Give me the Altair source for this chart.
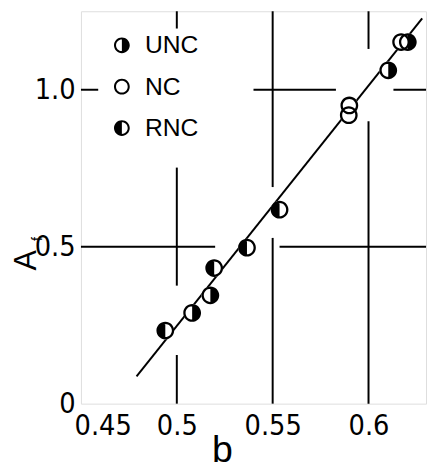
import altair as alt
import pandas as pd

# ---- data ----
b_vals = [0.494, 0.508, 0.5175, 0.5195, 0.5366, 0.5536, 0.5897, 0.5900, 0.6103, 0.6170, 0.6205]
af_vals = [0.233, 0.289, 0.345, 0.432, 0.497, 0.618, 0.919, 0.950, 1.062, 1.152, 1.152]
series = ["RNC", "UNC", "UNC", "RNC", "RNC", "RNC", "NC", "NC", "UNC", "NC", "UNC"]
categories = ["UNC", "NC", "RNC"]

fit_b = [0.479, 0.628]
fit_af = [0.087, 1.227]

x_ticks = [0.45, 0.5, 0.55, 0.6]
y_ticks = [0, 0.5, 1.0]

# cross-hair style grid segments (data coordinates)
vgrid_b = [0.5, 0.5, 0.5, 0.55, 0.55, 0.6, 0.6]
vgrid_from = [1.25, 0.752, 0.155, 1.25, 0.528, 1.25, 0.90]
vgrid_to = [1.195, 0.376, 0.0, 0.69, 0.0, 1.13, 0.0]
hgrid_af = [1.0, 1.0, 1.0, 0.5, 0.5]
hgrid_from = [0.45, 0.540, 0.613, 0.45, 0.5536]
hgrid_to = [0.459, 0.583, 0.63, 0.520, 0.63]

# ---- marker shapes: ring + filled half ----
ring = ("M -1 0 A 1 1 0 1 1 1 0 A 1 1 0 1 1 -1 0 Z "
        "M -0.74 0 A 0.74 0.74 0 1 0 0.74 0 A 0.74 0.74 0 1 0 -0.74 0 Z")
right_half = "M 0 -1 A 1 1 0 0 1 0 1 Z"
left_half = "M 0 1 A 1 1 0 0 1 0 -1 Z"
shape_paths = [ring + " " + right_half, ring, ring + " " + left_half]

pts = pd.DataFrame({"b": b_vals, "Af": af_vals, "series": series})
fit = pd.DataFrame({"b": fit_b, "Af": fit_af})
grid = pd.DataFrame({
    "x": vgrid_b + hgrid_from,
    "x2": vgrid_b + hgrid_to,
    "y": vgrid_from + hgrid_af,
    "y2": vgrid_to + hgrid_af,
})

LBL = "DejaVu Sans Condensed, Liberation Sans Narrow, Liberation Sans, sans-serif"

xscale = alt.Scale(domain=[0.45, 0.63], nice=False, zero=False)
yscale = alt.Scale(domain=[0, 1.25], nice=False)

xaxis = alt.Axis(values=x_ticks, title="b", grid=False, ticks=False, domain=False,
                 labelFont=LBL, labelFontSize=29, labelColor="black", labelPadding=8,
                 labelExpr="format(datum.value, '~g')",
                 labelFlush=True, labelFlushOffset=7,
                 titleFont="Liberation Sans", titleFontSize=38, titleFontWeight="normal",
                 titleColor="black", titleX=143, titleY=59, titleBaseline="alphabetic",
                 titleAlign="center")
yaxis = alt.Axis(values=y_ticks, title="A", grid=False, ticks=False, domain=False,
                 labelFont=LBL, labelFontSize=29, labelColor="black", labelPadding=6,
                 labelExpr="datum.value == 0 ? '0' : format(datum.value, '.1f')",
                 titleFont="Liberation Sans", titleFontSize=31, titleFontWeight="normal",
                 titleColor="black", titleX=-46, titleY=252, titleAngle=270,
                 titleBaseline="alphabetic", titleAlign="center")

grid_layer = alt.Chart(grid).mark_rule(color="black", strokeWidth=2).encode(
    x=alt.X("x:Q", scale=xscale, axis=xaxis),
    x2="x2:Q",
    y=alt.Y("y:Q", scale=yscale, axis=yaxis),
    y2="y2:Q",
)

fit_layer = alt.Chart(fit).mark_line(color="black", strokeWidth=2).encode(
    x=alt.X("b:Q", scale=xscale),
    y=alt.Y("Af:Q", scale=yscale),
)

under = alt.Chart(pts).mark_point(shape="circle", filled=True, color="white",
                                  size=324, opacity=1).encode(
    x=alt.X("b:Q", scale=xscale),
    y=alt.Y("Af:Q", scale=yscale),
)

marks = alt.Chart(pts).mark_point(filled=True, color="black", size=324, opacity=1,
                                  strokeWidth=0).encode(
    x=alt.X("b:Q", scale=xscale),
    y=alt.Y("Af:Q", scale=yscale),
    shape=alt.Shape("series:N",
                    scale=alt.Scale(domain=categories, range=shape_paths),
                    legend=alt.Legend(title=None, orient="none", legendX=29, legendY=22,
                                      symbolSize=256, symbolFillColor="black",
                                      symbolStrokeWidth=0, symbolOpacity=1,
                                      labelFont="Liberation Sans", labelFontSize=25,
                                      labelColor="black", labelOffset=11,
                                      rowPadding=16, padding=0)),
)

sub_f = alt.Chart(pd.DataFrame({"t": ["f"]})).mark_text(
    angle=270, fontSize=15, font="Liberation Sans", align="left",
    baseline="alphabetic", color="black").encode(
    text="t:N", x=alt.value(-40), y=alt.value(233))

chart = alt.layer(grid_layer, fit_layer, under, marks, sub_f).properties(
    width=350, height=398,
    autosize=alt.AutoSizeParams(type="none"),
    padding={"left": 74, "top": 0, "right": 2, "bottom": 66},
).configure_view(stroke="black", strokeWidth=2.5).configure(background="white")

chart.save("out.html", embed_options={"renderer": "svg", "actions": False})
